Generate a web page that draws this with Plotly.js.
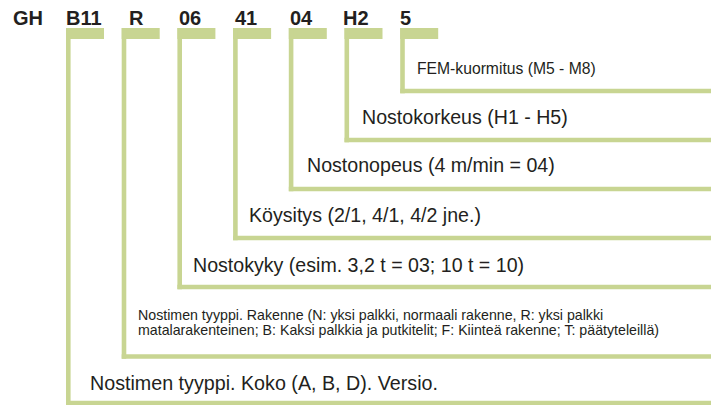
<!DOCTYPE html>
<html>
<head>
<meta charset="utf-8">
<script src="https://cdn.plot.ly/plotly-3.0.1.min.js"></script>
<style>html,body{margin:0;padding:0;background:#fff;}#chart{width:715px;height:405px;}</style>
</head>
<body>
<div id="chart"></div>
<script>
// ---- data ----
const PREFIX = "GH";
const CODES = ["B11", "R", "06", "41", "04", "H2", "5"];
const DESCRIPTIONS = [
  "Nostimen tyyppi. Koko (A, B, D). Versio.",
  "Nostimen tyyppi. Rakenne (N: yksi palkki, normaali rakenne, R: yksi palkki<br>matalarakenteinen; B: Kaksi palkkia ja putkitelit; F: Kiinteä rakenne; T: päätyteleillä)",
  "Nostokyky (esim. 3,2 t = 03; 10 t = 10)",
  "Köysitys (2/1, 4/1, 4/2 jne.)",
  "Nostonopeus (4 m/min = 04)",
  "Nostokorkeus (H1 - H5)",
  "FEM-kuormitus (M5 - M8)"
];

// ---- layout constants (pixels in axis units) ----
const W = 715, H = 405;
const GREEN = "#c8d592";
const TEXT = "#231f20";
const FONT = "Liberation Sans, Arial, sans-serif";
const TAB_X0 = 66, TAB_STEP = 55.7, TAB_W = 38, TAB_TOP = 28, TAB_BOT = 39;
const BAR = 4.6;
const LINE_END = 711;
const LINE_Y = [403, 356.5, 287, 238, 189, 140, 91];
const CODE_DX = [17.5, 15, 12.5, 12.7, 13, 11.7, 5.5];
const TEXT_DX = [22, 14, 14, 14, 16, 15, 15];
const TEXT_UP = [20, 34.5, 22, 23, 24, 23, 23];
const TEXT_SIZE = [19.7, 14.2, 19.6, 19.6, 19.6, 19.6, 15.7];
const LINE_GAP = 15;

const shapes = [];
const annotations = [];

annotations.push({
  x: 28, y: 18, xref: "x", yref: "y", text: "<b>" + PREFIX + "</b>",
  showarrow: false, xanchor: "center", yanchor: "middle",
  font: {family: FONT, size: 20, color: TEXT}
});

CODES.forEach((code, i) => {
  const x0 = TAB_X0 + i * TAB_STEP;
  const ly = LINE_Y[i];
  // tab
  shapes.push({type: "rect", xref: "x", yref: "y", x0: x0, x1: x0 + TAB_W, y0: TAB_TOP, y1: TAB_BOT,
    fillcolor: GREEN, line: {width: 0}, layer: "below"});
  // vertical bar
  shapes.push({type: "rect", xref: "x", yref: "y", x0: x0, x1: x0 + BAR, y0: TAB_TOP, y1: ly + BAR / 2,
    fillcolor: GREEN, line: {width: 0}, layer: "below"});
  // horizontal bar
  shapes.push({type: "rect", xref: "x", yref: "y", x0: x0, x1: LINE_END, y0: ly - BAR / 2, y1: ly + BAR / 2,
    fillcolor: GREEN, line: {width: 0}, layer: "below"});
  // code label
  annotations.push({
    x: x0 + CODE_DX[i], y: 18, xref: "x", yref: "y", text: "<b>" + code + "</b>",
    showarrow: false, xanchor: "center", yanchor: "middle",
    font: {family: FONT, size: 20, color: TEXT}
  });
  // description (one annotation per line for tight line spacing)
  const lines = DESCRIPTIONS[i].split("<br>");
  const yc = ly - TEXT_UP[i];
  lines.forEach((t, k) => {
    annotations.push({
      x: x0 + TEXT_DX[i], y: yc + (k - (lines.length - 1) / 2) * LINE_GAP, xref: "x", yref: "y", text: t,
      showarrow: false, xanchor: "left", yanchor: "middle", align: "left",
      font: {family: FONT, size: TEXT_SIZE[i], color: TEXT}
    });
  });
});

const layout = {
  width: W, height: H,
  margin: {l: 0, r: 0, t: 0, b: 0, pad: 0},
  paper_bgcolor: "#ffffff", plot_bgcolor: "#ffffff",
  showlegend: false,
  xaxis: {range: [0, W], visible: false, fixedrange: true},
  yaxis: {range: [H, 0], visible: false, fixedrange: true},
  shapes: shapes,
  annotations: annotations
};

Plotly.newPlot("chart", [{x: [], y: [], type: "scatter", hoverinfo: "skip"}], layout, {displayModeBar: false, staticPlot: true});
</script>
</body>
</html>
